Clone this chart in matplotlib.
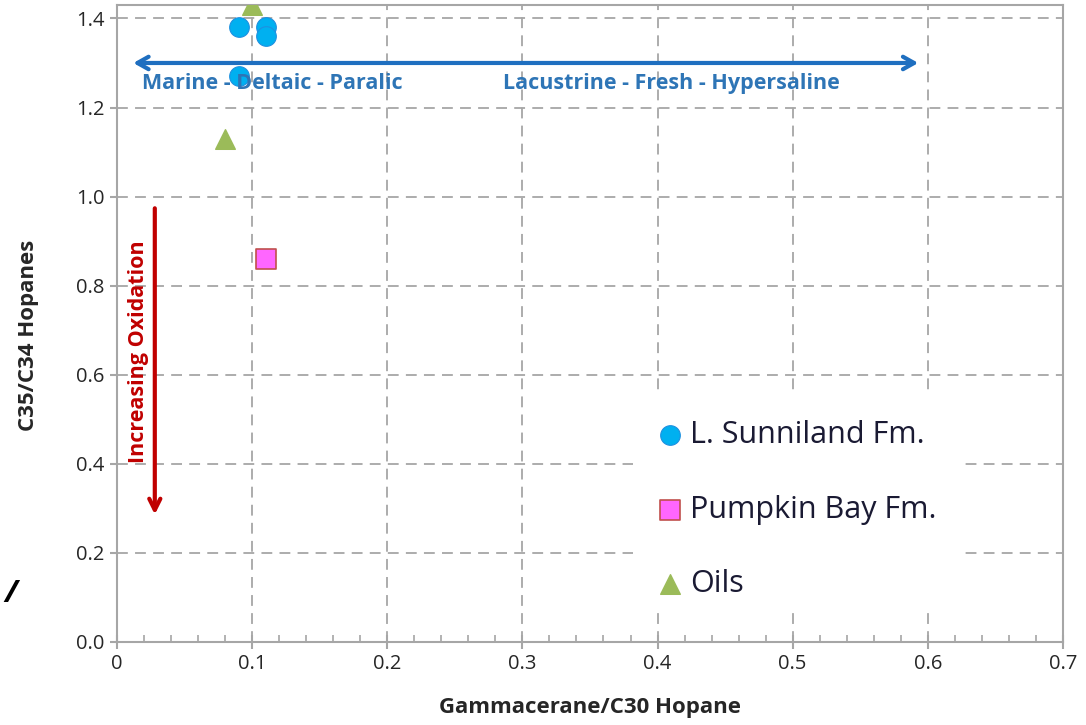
import matplotlib.pyplot as plt
from matplotlib.patches import Rectangle
from matplotlib.ticker import MultipleLocator

plt.rcParams['font.family'] = ['Open Sans', 'DejaVu Sans']

# data
sunniland_x = [0.09, 0.11, 0.11, 0.09]
sunniland_y = [1.38, 1.38, 1.36, 1.27]
pumpkin_x = [0.11]
pumpkin_y = [0.86]
oils_x = [0.10, 0.08]
oils_y = [1.43, 1.13]

x_ticks = [0, 0.1, 0.2, 0.3, 0.4, 0.5, 0.6, 0.7]
x_labels = ['0', '0.1', '0.2', '0.3', '0.4', '0.5', '0.6', '0.7']
y_ticks = [0.0, 0.2, 0.4, 0.6, 0.8, 1.0, 1.2, 1.4]

env_arrow_x = [0.01, 0.595]
env_arrow_y = 1.30
ox_arrow_x = 0.028
ox_arrow_y = [0.98, 0.28]

fig = plt.figure(figsize=(10.86, 7.25), dpi=100)
ax = fig.add_axes([0.1077, 0.1145, 0.8711, 0.8785])

grid_col = '#A6A6A6'
ax.set_xlim(0, 0.7)
ax.set_ylim(0, 1.43)
ax.set_xticks(x_ticks)
ax.set_xticklabels(x_labels)
ax.set_yticks(y_ticks)
ax.set_yticklabels([f'{v:.1f}' for v in y_ticks])
ax.xaxis.set_minor_locator(MultipleLocator(0.02))
ax.grid(True, which='major', linestyle=(0, (6, 4)), color=grid_col, linewidth=1.3)
ax.set_axisbelow(True)
for s in ax.spines.values():
    s.set_color(grid_col)
    s.set_linewidth(1.5)
ax.tick_params(axis='x', which='major', direction='inout', length=10, width=1.5, color=grid_col,
               labelsize=14.5, labelcolor='#262626', pad=4)
ax.tick_params(axis='x', which='minor', direction='in', length=5, width=1.2, color=grid_col)
ax.tick_params(axis='y', which='major', direction='out', length=5, width=1.5, color=grid_col,
               labelsize=14.5, labelcolor='#262626', pad=4)

# series
ax.scatter(oils_x, oils_y, marker='^', s=200, color='#9BBB59', zorder=3, label='Oils')
ax.scatter(sunniland_x, sunniland_y, marker='o', s=200, color='#00B0F0', edgecolors='#1E90E0',
           linewidths=0.8, zorder=4, label='L. Sunniland Fm.')
ax.scatter(pumpkin_x, pumpkin_y, marker='s', s=200, color='#FF66FF', edgecolors='#C0504D',
           linewidths=1.2, zorder=4, label='Pumpkin Bay Fm.')

# environment double arrow
ax.annotate('', xy=(env_arrow_x[0], env_arrow_y), xytext=(env_arrow_x[1], env_arrow_y),
            arrowprops=dict(arrowstyle='<->, head_length=0.8, head_width=0.45', color='#1F6FC0', lw=3),
            zorder=5)
ax.text(0.0185, 1.254, 'Marine - Deltaic - Paralic', color='#2E75B6', fontsize=15.5,
        fontweight='bold', va='center', ha='left', zorder=6)
ax.text(0.41, 1.254, 'Lacustrine - Fresh - Hypersaline', color='#2E75B6', fontsize=15.5,
        fontweight='bold', va='center', ha='center', zorder=6)

# oxidation arrow
ax.annotate('', xy=(ox_arrow_x, ox_arrow_y[1]), xytext=(ox_arrow_x, ox_arrow_y[0]),
            arrowprops=dict(arrowstyle='->, head_length=0.8, head_width=0.4', color='#C00000', lw=3),
            zorder=5)
ax.text(0.0158, 0.652, 'Increasing Oxidation', color='#C00000', fontsize=15.5, fontweight='bold',
        rotation=90, va='center', ha='center', zorder=6)

ax.set_xlabel('Gammacerane/C30 Hopane', fontsize=16, fontweight='bold', color='#262626', labelpad=16)
ax.set_ylabel('C35/C34 Hopanes', fontsize=16, fontweight='bold', color='#262626')
ax.yaxis.set_label_coords(-0.0824, 0.482)

# white box behind the legend (hides the grid)
ax.add_patch(Rectangle((0.5455, 0.047), 0.3477, 0.3408, transform=ax.transAxes,
                       facecolor='white', edgecolor='none', zorder=2.5))

handles, labels = ax.get_legend_handles_labels()
order = [1, 2, 0]
leg = ax.legend([handles[i] for i in order], [labels[i] for i in order],
                loc='upper left', bbox_to_anchor=(0.5285, 0.408), fontsize=22,
                frameon=False, markerscale=1.0, handletextpad=0.15, labelspacing=1.45,
                borderpad=0.75, handlelength=1.0)
for t in leg.get_texts():
    t.set_color('#1a1a33')

fig.text(0.004, 0.17, '/', fontsize=22, fontstyle='italic', fontweight='bold', color='black')

fig.savefig('out.png', dpi=100)
